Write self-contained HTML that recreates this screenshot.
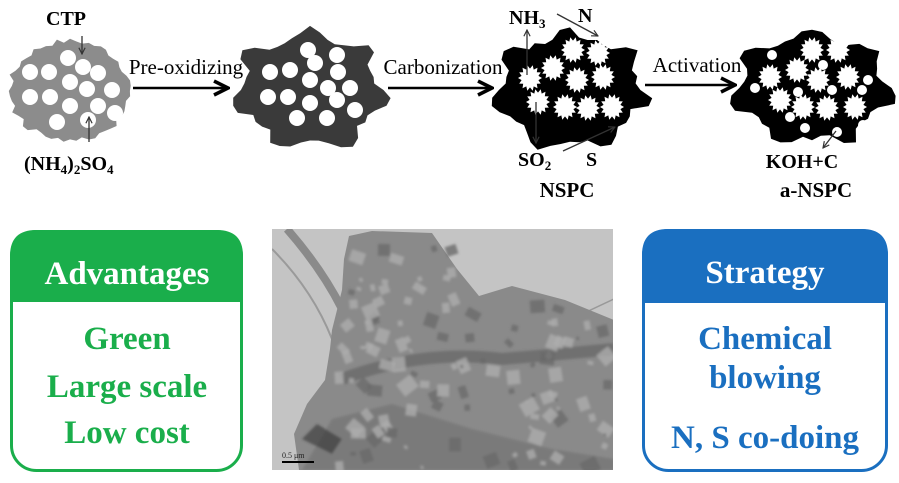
<!DOCTYPE html>
<html><head><meta charset="utf-8">
<style>
html,body{margin:0;padding:0;background:#fff;}
svg{display:block;}
text{font-family:"Liberation Serif",serif;}
</style></head>
<body>
<svg id="s" width="899" height="483" viewBox="0 0 899 483" xmlns="http://www.w3.org/2000/svg">
<defs>
<marker id="ah" viewBox="0 0 10 10" refX="9" refY="5" markerWidth="7" markerHeight="7" orient="auto"><path d="M1,1 L9,5 L1,9" fill="none" stroke="#000" stroke-width="2"/></marker>
<marker id="sa" viewBox="0 0 10 10" refX="9" refY="5" markerWidth="6" markerHeight="6" orient="auto"><path d="M1,1 L9,5 L1,9" fill="none" stroke="#333" stroke-width="1.5"/></marker>
<clipPath id="tc"><rect width="341" height="241"/></clipPath>
<filter id="bl"><feGaussianBlur stdDeviation="1.2"/></filter>
</defs>
<g id="blobs"></g>

<line x1="133" y1="88" x2="228" y2="88" stroke="#000" stroke-width="2.5" marker-end="url(#ah)"/>
<line x1="388" y1="88" x2="492" y2="88" stroke="#000" stroke-width="2.5" marker-end="url(#ah)"/>
<line x1="645" y1="85" x2="735" y2="85" stroke="#000" stroke-width="2.5" marker-end="url(#ah)"/>
<text x="186" y="74" font-size="21" text-anchor="middle">Pre-oxidizing</text>
<text x="443" y="74" font-size="21" text-anchor="middle">Carbonization</text>
<text x="697" y="72" font-size="21" text-anchor="middle">Activation</text>

<g stroke="#333" stroke-width="1.3" fill="none">
<line x1="82" y1="36" x2="82" y2="54" marker-end="url(#sa)"/>
<line x1="89" y1="142" x2="89" y2="117" marker-end="url(#sa)"/>
<line x1="527" y1="75" x2="527" y2="30" marker-end="url(#sa)"/>
<line x1="557" y1="14" x2="598" y2="36" marker-end="url(#sa)"/>
<line x1="536" y1="102" x2="536" y2="143" marker-end="url(#sa)"/>
<line x1="563" y1="151" x2="615" y2="127" marker-end="url(#sa)"/>
<line x1="836" y1="131" x2="823" y2="148" marker-end="url(#sa)"/>
</g>

<g font-weight="bold" font-size="20">
<text x="66" y="25" text-anchor="middle">CTP</text>
<text x="24" y="170">(NH<tspan font-size="13" dy="4">4</tspan><tspan dy="-4">)</tspan><tspan font-size="13" dy="4">2</tspan><tspan dy="-4">SO</tspan><tspan font-size="13" dy="4">4</tspan></text>
<text x="509" y="24">NH<tspan font-size="13" dy="4">3</tspan></text>
<text x="578" y="22">N</text>
<text x="518" y="166">SO<tspan font-size="13" dy="4">2</tspan></text>
<text x="586" y="166">S</text>
<text x="567" y="197" text-anchor="middle" font-size="21">NSPC</text>
<text x="802" y="168" text-anchor="middle">KOH+C</text>
<text x="816" y="197" text-anchor="middle" font-size="21">a-NSPC</text>
</g>

<path d="M10,302 V256 Q10,230 36,230 H217 Q243,230 243,256 V302 Z" fill="#1aae4b"/>
<rect x="11.5" y="231.5" width="230" height="239" rx="25" fill="none" stroke="#1aae4b" stroke-width="3"/>
<g font-weight="bold" font-size="33" text-anchor="middle">
<text x="127" y="284" fill="#fff">Advantages</text>
<text x="127" y="349" fill="#1aae4b">Green</text>
<text x="127" y="397" fill="#1aae4b">Large scale</text>
<text x="127" y="443" fill="#1aae4b">Low cost</text>
</g>

<path d="M642,303 V255 Q642,229 668,229 H862 Q888,229 888,255 V303 Z" fill="#1a6fc0"/>
<rect x="643.5" y="230.5" width="243" height="240" rx="25" fill="none" stroke="#1a6fc0" stroke-width="3"/>
<g font-weight="bold" font-size="33" text-anchor="middle">
<text x="765" y="283" fill="#fff">Strategy</text>
<text x="765" y="349" fill="#1a6fc0">Chemical</text>
<text x="765" y="388" fill="#1a6fc0">blowing</text>
<text x="765" y="448" fill="#1a6fc0">N, S co-doing</text>
</g>

<g transform="translate(272,229)" clip-path="url(#tc)">
<rect width="341" height="241" fill="#c4c4c4"/>
<path d="M0,20 Q40,60 60,110" stroke="#9a9a9a" stroke-width="2" fill="none"/>
<path d="M15,0 Q50,40 70,80" stroke="#8a8a8a" stroke-width="8" fill="none"/>
<path d="M342,70 Q310,85 300,90" stroke="#999" stroke-width="1.5" fill="none"/>
<polygon points="77,7 100,2 160,4 185,40 207,67 240,57 293,71 342,91 342,241 27,241 22,205 35,175 53,151 58,120 60,101 70,61 72,30" fill="#8a8a8a"/>
<g filter="url(#bl)">
<polygon points="30,241 60,190 120,175 200,200 280,220 342,230 342,241" fill="#7a7a7a"/>
<path d="M70,150 Q150,120 230,130 Q290,125 342,120" stroke="#555" stroke-width="12" fill="none" opacity="0.5"/>
<g id="tem"></g>
<path d="M30,210 L60,225 L70,210 L45,195 Z" fill="#333" opacity="0.6"/>
</g>
<line x1="10" y1="233" x2="42" y2="233" stroke="#000" stroke-width="2"/>
<text x="10" y="229" font-size="8" fill="#222">0.5 μm</text>
</g>
</svg>
<script>
var NS="http://www.w3.org/2000/svg";
var g=document.getElementById("blobs");
var seed=7;function rnd(){seed=(seed*9301+49297)%233280;return seed/233280;}
function el(t,a,p){var e=document.createElementNS(NS,t);for(var k in a)e.setAttribute(k,a[k]);(p||g).appendChild(e);return e;}
function blob(cx,cy,rx,ry,n,amp,fill,lobes){
 var pts=[];for(var i=0;i<n;i++){var a=i/n*Math.PI*2;var r=1+(rnd()-0.5)*amp;
 if(lobes){r+=0.22*Math.max(0,Math.sin(a*lobes+rnd()*0.5));}
 pts.push((cx+Math.cos(a)*rx*r).toFixed(1)+","+(cy+Math.sin(a)*ry*r).toFixed(1));}
 el("polygon",{points:pts.join(" "),fill:fill});}
function circ(list,r){list.forEach(function(p){el("circle",{cx:p[0],cy:p[1],r:r,fill:"#fff"});});}
function star(cx,cy,rx,ry){var pts=[];var n=28;for(var i=0;i<n;i++){var a=i/n*Math.PI*2;var f=i%2?0.72:1;pts.push((cx+Math.cos(a)*rx*f).toFixed(1)+","+(cy+Math.sin(a)*ry*f).toFixed(1));}el("polygon",{points:pts.join(" "),fill:"#fff"});}
blob(70,91,60,50,60,0.12,"#8c8c8c",0);
circ([[68,58],[83,67],[98,73],[30,72],[49,72],[70,82],[87,89],[112,90],[30,97],[50,97],[70,106],[98,106],[115,113],[57,122],[88,120]],8);
blob(310,90,68,52,48,0.1,"#3a3a3a",7);
circ([[308,50],[337,55],[270,72],[290,70],[315,63],[338,72],[310,80],[328,88],[350,88],[268,97],[288,97],[310,103],[337,100],[355,110],[297,118],[327,118]],8);
blob(570,90,68,52,48,0.1,"#000",7);
[[573,50],[598,53],[530,78],[553,68],[577,80],[603,77],[538,102],[565,107],[588,108],[612,107]].forEach(function(p){star(p[0],p[1],12,13);});
blob(812,88,70,50,48,0.1,"#000",7);
[[812,50],[838,50],[770,77],[797,70],[818,80],[848,77],[780,100],[803,107],[827,108],[855,107]].forEach(function(p){star(p[0],p[1],12,13);});
circ([[772,55],[848,40],[823,65],[755,88],[868,80],[798,92],[832,90],[862,90],[790,117],[805,128],[837,132],[863,125]],5);
var t=document.getElementById("tem");
for(var i=0;i<160;i++){var x=70+rnd()*270,y=12+rnd()*225;
 if(y<70&&x>185)continue; if(x<75&&y<110)continue;
 var w=3+rnd()*12;var c=rnd()<0.7?"#adadad":"#6a6a6a";
 el("rect",{x:x.toFixed(1),y:y.toFixed(1),width:w.toFixed(1),height:(w*(0.6+rnd()*0.6)).toFixed(1),fill:c,opacity:"0.8",transform:"rotate("+(rnd()*90).toFixed(0)+" "+x.toFixed(0)+" "+y.toFixed(0)+")"},t);}
</script>
</body></html>
